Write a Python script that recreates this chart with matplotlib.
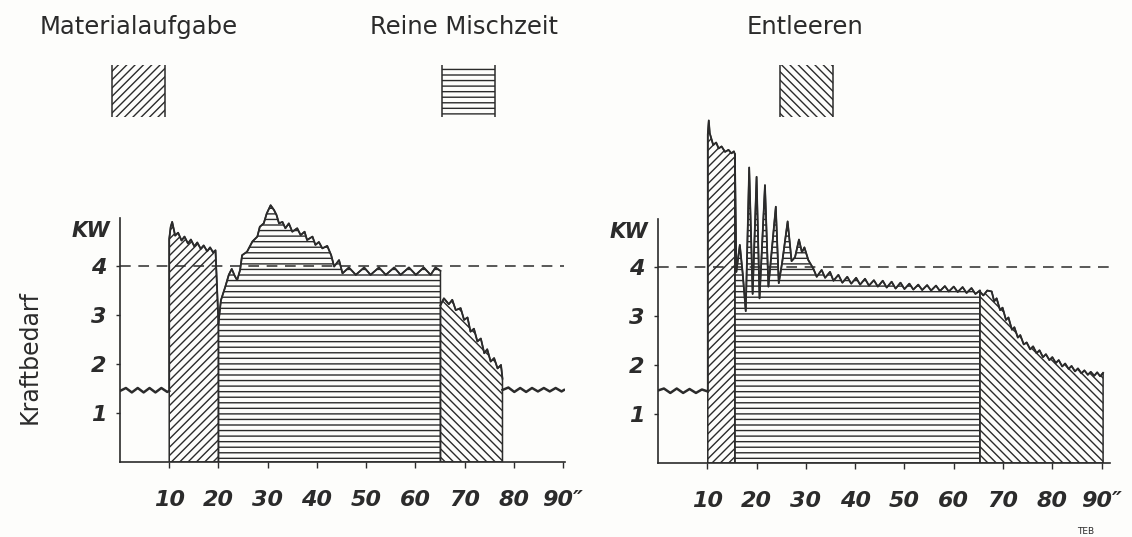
import matplotlib
matplotlib.use('Agg')
from matplotlib import pyplot as plt
from matplotlib.patches import Rectangle

# Kraftbedarf eines Mischers (kW) ueber der Zeit (s), zwei Messungen

# linkes Diagramm
l_leer_t = [0, 1.2, 2.4, 3.6, 4.8, 6.0, 7.2, 8.4, 9.6, 10.0]
l_leer_kw = [1.45, 1.51, 1.42, 1.51, 1.42, 1.51, 1.42, 1.51, 1.43, 1.45]

l_auf_t = [10.0, 10.0, 10.3, 10.6, 11.2, 11.8, 12.5, 13.1, 13.8, 14.4, 15.1,
           15.7, 16.4, 17.0, 17.7, 18.3, 18.9, 19.4, 19.7, 20.0]
l_auf_kw = [1.45, 4.55, 4.80, 4.90, 4.62, 4.68, 4.52, 4.60, 4.46, 4.54, 4.40,
            4.48, 4.35, 4.42, 4.30, 4.38, 4.28, 4.32, 3.60, 2.83]

l_misch_t = [20.0, 20.5, 21.4, 22.1, 22.7, 23.3, 23.8, 24.4, 24.8, 25.8, 26.9,
             27.9, 28.4, 29.2, 29.8, 30.6, 31.3, 31.8, 32.3, 33.0, 33.6, 34.3,
             35.0, 36.0, 36.7, 37.5, 38.0, 39.1, 39.7, 40.4, 41.1, 42.1, 42.9,
             43.5, 44.5, 45.2, 46.5, 47.9, 49.6, 50.9, 52.6, 54.0, 55.7, 57.0,
             58.7, 60.1, 61.7, 63.1, 64.1, 65.1]
l_misch_kw = [2.83, 3.30, 3.58, 3.82, 3.94, 3.80, 3.71, 3.92, 4.22, 4.29, 4.50,
              4.60, 4.80, 4.87, 5.07, 5.24, 5.14, 5.04, 4.87, 4.90, 4.77, 4.87,
              4.70, 4.77, 4.63, 4.70, 4.53, 4.60, 4.43, 4.49, 4.36, 4.41, 4.22,
              3.99, 4.12, 3.85, 3.97, 3.82, 3.97, 3.82, 3.97, 3.82, 3.97, 3.82,
              3.97, 3.82, 3.97, 3.82, 3.97, 3.90]

l_entl_t = [65.1, 65.8, 66.8, 67.5, 68.2, 69.2, 69.9, 70.6, 71.2, 71.9, 72.6,
            73.3, 74.0, 74.6, 75.3, 76.0, 76.7, 77.4, 77.7]
l_entl_kw = [3.20, 3.34, 3.22, 3.31, 3.10, 3.14, 2.90, 2.95, 2.66, 2.72, 2.46,
             2.52, 2.22, 2.30, 2.05, 2.12, 1.91, 1.98, 1.70]

l_nach_t = [77.7, 78.9, 80.1, 81.3, 82.5, 83.7, 84.9, 86.1, 87.3, 88.5, 89.7, 90.2]
l_nach_kw = [1.47, 1.52, 1.43, 1.51, 1.43, 1.51, 1.44, 1.51, 1.44, 1.51, 1.44, 1.47]

# rechtes Diagramm
r_leer_t = [0, 1.2, 2.5, 3.8, 5.1, 6.4, 7.7, 8.9, 10.1]
r_leer_kw = [1.48, 1.52, 1.43, 1.52, 1.43, 1.51, 1.43, 1.50, 1.46]

r_auf_t = [10.1, 10.1, 10.3, 10.5, 11.2, 11.8, 12.3, 12.9, 13.6, 14.3, 14.9, 15.4, 15.6]
r_auf_kw = [1.46, 6.70, 6.99, 6.73, 6.49, 6.54, 6.42, 6.46, 6.35, 6.39, 6.32, 6.36, 6.30]

r_misch_t = [15.6, 15.9, 16.6, 17.2, 17.8, 18.5, 19.2, 20.0, 20.6, 21.7, 22.4,
             23.9, 24.5, 25.2, 26.3, 27.1, 27.8, 28.6, 29.2, 29.7, 30.5, 31.5,
             32.2, 33.2, 33.9, 34.9, 35.6, 36.6, 37.4, 38.4, 39.2, 40.2, 41.0,
             42.0, 42.8, 43.8, 44.6, 45.6, 46.4, 47.4, 48.2, 49.2, 50.0, 51.0,
             51.8, 52.8, 53.6, 54.6, 55.4, 56.4, 57.2, 58.2, 59.0, 60.0, 60.8,
             61.8, 62.6, 63.6, 64.4, 65.3]
r_misch_kw = [6.30, 3.90, 4.45, 3.85, 3.10, 6.03, 3.45, 5.84, 3.36, 5.67, 3.60,
              5.23, 3.67, 4.10, 4.93, 4.12, 4.20, 4.56, 4.30, 4.40, 4.14, 3.97,
              3.80, 3.94, 3.78, 3.90, 3.72, 3.84, 3.68, 3.80, 3.66, 3.78, 3.64,
              3.76, 3.62, 3.73, 3.60, 3.72, 3.58, 3.70, 3.56, 3.68, 3.55, 3.66,
              3.54, 3.64, 3.53, 3.63, 3.52, 3.62, 3.51, 3.61, 3.50, 3.60, 3.49,
              3.59, 3.47, 3.57, 3.45, 3.52]

r_entl_t = [65.3, 66.0, 66.8, 67.7, 68.2, 68.7, 69.4, 69.9, 70.6, 71.1, 71.8,
            72.3, 73.0, 73.5, 74.2, 74.8, 75.5, 76.1, 76.8, 77.4, 78.1, 78.7,
            79.4, 80.0, 80.7, 81.3, 82.0, 82.6, 83.3, 83.9, 84.6, 85.2, 85.9,
            86.5, 87.2, 87.8, 88.5, 89.1, 89.7, 90.3]
r_entl_kw = [3.50, 3.42, 3.52, 3.50, 3.30, 3.36, 3.12, 3.17, 2.92, 2.97, 2.72,
             2.77, 2.56, 2.61, 2.42, 2.46, 2.32, 2.38, 2.24, 2.30, 2.16, 2.22,
             2.10, 2.16, 2.04, 2.10, 1.97, 2.03, 1.92, 1.98, 1.87, 1.93, 1.83,
             1.89, 1.80, 1.86, 1.78, 1.85, 1.77, 1.84]

grenze_kw = 4
x_ticks = [10, 20, 30, 40, 50, 60, 70, 80, 90]
x_labels = ['10', '20', '30', '40', '50', '60', '70', '80', '90″']
y_ticks = [1, 2, 3, 4]
phasen = ['Materialaufgabe', 'Reine Mischzeit', 'Entleeren']
schraffur = ['////', '---', '\\\\\\\\']

ink = '#2b2b2b'
plt.rcParams['hatch.linewidth'] = 1.0
plt.rcParams['hatch.color'] = ink

W, H = 1132, 537
fig = plt.figure(figsize=(W / 100, H / 100), dpi=100)
fig.patch.set_facecolor('#fdfdfb')

# Hintergrund-Achse fuer Ueberschriften und Legendenfelder (Pixel)
bg = fig.add_axes([0, 0, 1, 1])
bg.set_xlim(0, W)
bg.set_ylim(H, 0)
bg.axis('off')

titel_x = [139, 464, 805]
box_x = [112, 442, 780]
for name, tx, bx, h in zip(phasen, titel_x, box_x, schraffur):
    bg.text(tx, 27, name, ha='center', va='center', fontsize=17.5, color=ink)
    bg.add_patch(Rectangle((bx, 65), 53, 52, facecolor='none', edgecolor=ink,
                           linewidth=0, hatch=h))
    bg.vlines([bx, bx + 53], 65, 117, color=ink, linewidth=1.1)
bg.text(30, 357, 'Kraftbedarf', rotation=90, ha='center', va='center',
        fontsize=17, color=ink)
bg.text(1086, 532, 'TEB', ha='center', va='center', fontsize=6.5, color=ink)

px_kw = 49.0
ymax = 7.5


def panel(left_px, base_px, width_px, xmax, teile, nach=None):
    ax = fig.add_axes([left_px / W, (H - base_px) / H, width_px / W, ymax * px_kw / H])
    ax.set_xlim(0, xmax)
    ax.set_ylim(0, ymax)
    ax.patch.set_alpha(0)
    for s in ['top', 'right']:
        ax.spines[s].set_visible(False)
    ax.spines['left'].set_bounds(0, 4.98)
    for s in ['left', 'bottom']:
        ax.spines[s].set_color(ink)
        ax.spines[s].set_linewidth(1.2)

    t0, k0 = teile[0]
    ax.plot(t0, k0, color=ink, lw=1.8)
    for (t, k), h in zip(teile[1:], schraffur):
        ax.fill_between(t, 0, k, facecolor='none', edgecolor=ink, hatch=h, linewidth=1.1)
        ax.plot(t, k, color=ink, lw=1.3)
    if nach is not None:
        ax.plot(nach[0], nach[1], color=ink, lw=1.8)

    ax.plot([0, xmax - 0.2], [grenze_kw, grenze_kw], color=ink, lw=1.1, dashes=(7, 5))

    ax.set_xticks(x_ticks)
    ax.set_xticklabels(x_labels, fontsize=16, fontstyle='italic', fontweight='bold', color=ink)
    ax.set_yticks(y_ticks)
    ax.set_yticklabels([str(v) for v in y_ticks], fontsize=16, fontstyle='italic',
                       fontweight='bold', color=ink)
    ax.tick_params(axis='x', direction='out', length=4, width=1, color=ink, pad=16)
    ax.tick_params(axis='y', direction='out', length=3, width=1, color=ink, pad=7)
    ax.text(-6.0, 4.72, 'KW', ha='center', va='center', fontsize=15,
            fontstyle='italic', fontweight='bold', color=ink)
    return ax


panel(120, 462, 445, 90.4,
      [(l_leer_t, l_leer_kw), (l_auf_t, l_auf_kw), (l_misch_t, l_misch_kw),
       (l_entl_t, l_entl_kw)], nach=(l_nach_t, l_nach_kw))
panel(658, 463, 452, 91.7,
      [(r_leer_t, r_leer_kw), (r_auf_t, r_auf_kw), (r_misch_t, r_misch_kw),
       (r_entl_t, r_entl_kw)])

fig.savefig('out.png', dpi=100, facecolor=fig.get_facecolor())
